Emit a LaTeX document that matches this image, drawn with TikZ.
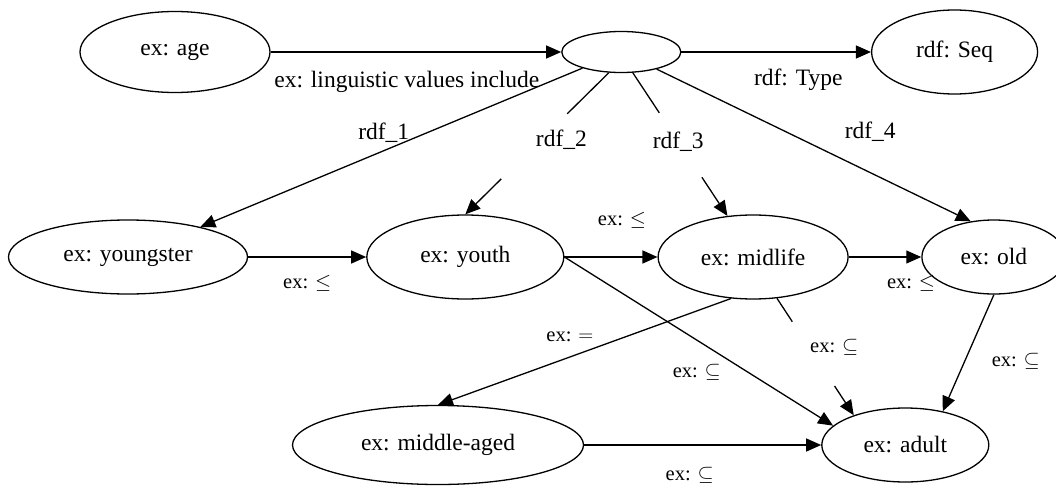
\documentclass[tikz,border=0pt]{standalone}
\usepackage{fontspec}
\setmainfont{Liberation Serif}
\usetikzlibrary{arrows.meta,shapes.geometric,positioning}

\begin{document}
\begin{tikzpicture}[
        x=1pt, y=-1pt,
        >={Triangle[length=15pt,width=13pt]},
        every path/.style={line width=1.3pt},
        term/.style={draw, ellipse, inner sep=0pt, font=\fontsize{23.5}{28}\selectfont},
        lbl/.style={inner sep=1pt, font=\fontsize{23.5}{28}\selectfont},
        rel/.style={inner sep=1pt, font=\fontsize{20.5}{24}\selectfont}
    ]
    \useasboundingbox (0,0) rectangle (1056,487);

    % Nodes
    \node[term, minimum width=190pt, minimum height=81pt] (age) at (175,52) {ex: age};
    \node[term, minimum width=119pt, minimum height=41pt, right=290.5pt of age] (blank) {};
    \node[term, minimum width=166pt, minimum height=84pt, right=189.5pt of blank] (seq) {rdf: Seq};

    \node[term, minimum width=239pt, minimum height=74pt] (youngster) at (128,257) {ex: youngster};
    \node[term, minimum width=197pt, minimum height=84pt, right=118pt of youngster] (youth) {ex: youth};
    \node[term, minimum width=190pt, minimum height=84pt, right=93pt of youth] (midlife) {ex: midlife};
    \node[term, minimum width=144pt, minimum height=74pt, right=72.5pt of midlife] (old) {ex: old};

    \node[term, minimum width=291pt, minimum height=79pt] (midaged) at (438,445) {ex: middle-aged};
    \node[term, minimum width=167pt, minimum height=74pt, right=237pt of midaged] (adult) {ex: adult};

    % Edges
    \draw[->] (age) -- node[lbl, shift={(-9,30)}] {ex: linguistic values include} (blank);
    \draw[->] (blank) -- node[lbl, shift={(22,28)}] {rdf: Type} (seq);
    \draw[->] (blank) -- node[lbl, pos=.52, shift={(0,-18)}] {rdf\_1} (youngster);

    % rdf_2 and rdf_3 are broken where their labels sit
    \path (blank.239) -- (youth.north) coordinate[pos=.29] (r2a) coordinate[pos=.75] (r2b)
        node[lbl, pos=.47, shift={(20,0)}] {rdf\_2};
    \draw (blank.239) -- (r2a);
    \draw[->] (r2b) -- (youth.north);

    \path (blank.299) -- (midlife.122) coordinate[pos=.28] (r3a) coordinate[pos=.73] (r3b)
        node[lbl, pos=.48] {rdf\_3};
    \draw (blank.299) -- (r3a);
    \draw[->] (r3b) -- (midlife.122);

    \draw[->] (blank) -- node[lbl, pos=.68, shift={(0,-41)}] {rdf\_4} (old.123);

    \draw[->] (youngster) -- node[rel, shift={(0,26)}] {ex: $\leq$} (youth);
    \draw[->] (youth) -- node[rel, shift={(11,-37)}] {ex: $\leq$} (midlife);
    \draw[->] (midlife) -- node[rel, shift={(26,26)}] {ex: $\leq$} (old);

    \draw[->] (midlife.242) -- node[rel, pos=.55, shift={(0,-20)}] {ex: $=$} (midaged.north);
    \draw[->] (youth.east) -- node[rel, shift={(-2,31)}] {ex: $\subseteq$} (adult.165);

    \path (midlife.300) -- (adult.150) coordinate[pos=.2] (ma1) coordinate[pos=.75] (ma2)
        node[rel, pos=.42, shift={(25,0)}] {ex: $\subseteq$};
    \draw (midlife.300) -- (ma1);
    \draw[->] (ma2) -- (adult.150);

    \draw[->] (old.south) -- node[rel, pos=.57, shift={(51,0)}] {ex: $\subseteq$} (adult.42);
    \draw[->] (midaged) -- node[rel, shift={(-13,30)}] {ex: $\subseteq$} (adult);

\end{tikzpicture}
\end{document}
